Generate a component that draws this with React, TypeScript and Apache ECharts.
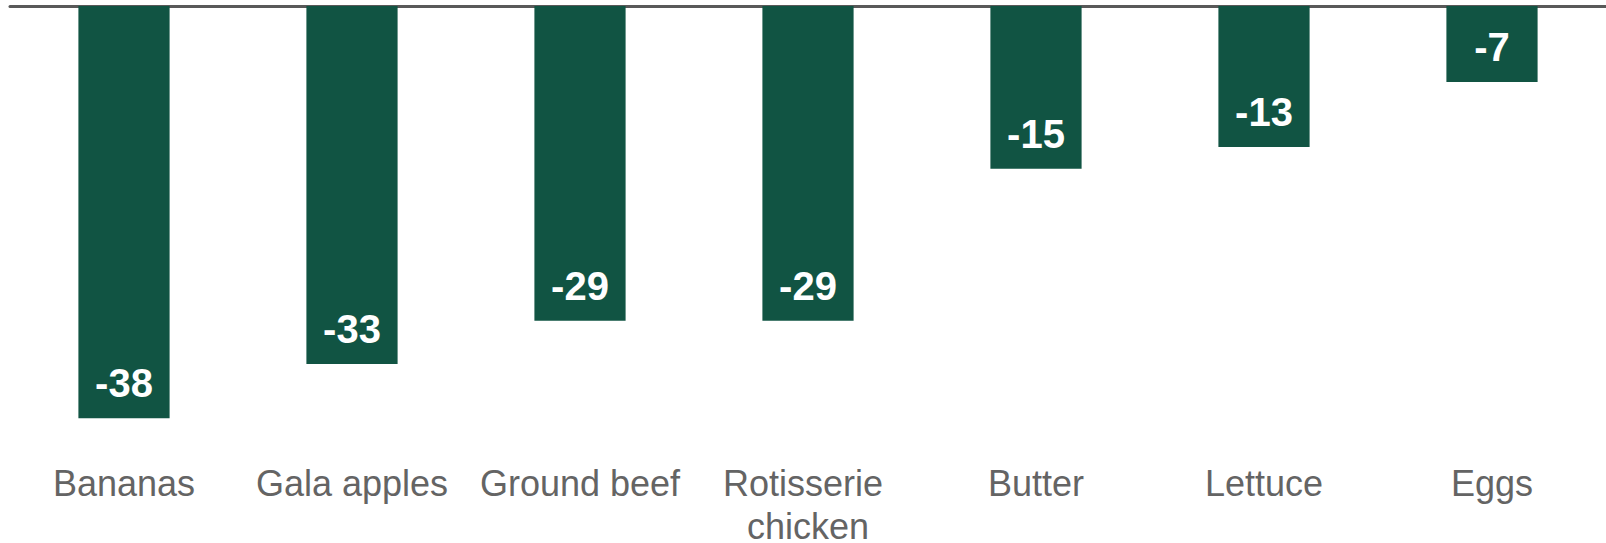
import React, { useEffect, useRef } from "react";
import * as echarts from "echarts";

const categories = ["Bananas", "Gala apples", "Ground beef", "Rotisserie chicken", "Butter", "Lettuce", "Eggs"];
const values = [-38, -33, -29, -29, -15, -13, -7];
const yMin = -40;
const yMax = 0;

export default function App() {
  const ref = useRef<HTMLDivElement>(null);
  useEffect(() => {
    if (!ref.current) return;
    const chart = echarts.init(ref.current, undefined, { renderer: "svg" });
    const font = "'Liberation Sans', Arial, sans-serif";
    chart.setOption({
      animation: false,
      grid: { left: 10, right: 0, top: 6, bottom: 103, containLabel: false, outerBoundsMode: "none" },
      xAxis: [
        {
          type: "category",
          data: categories,
          position: "top",
          axisLine: { show: true, onZero: false, lineStyle: { color: "#595959", width: 3 } },
          axisTick: { show: false },
          axisLabel: { show: false },
        },
        {
          type: "category",
          data: categories,
          position: "bottom",
          axisLine: { show: false, onZero: false },
          axisTick: { show: false },
          axisLabel: {
            show: true,
            interval: 0,
            margin: 22,
            color: "#646464",
            fontSize: 36,
            lineHeight: 43,
            fontFamily: font,
            width: 220,
            overflow: "break",
          },
        },
      ],
      yAxis: {
        type: "value",
        min: yMin,
        max: yMax,
        show: false,
        splitLine: { show: false },
      },
      series: [
        {
          type: "bar",
          xAxisIndex: 0,
          data: values,
          barWidth: "40%",
          itemStyle: { color: "#115443" },
          label: {
            show: true,
            position: "insideBottom",
            distance: 15,
            color: "#ffffff",
            fontSize: 40,
            fontWeight: "bold",
            fontFamily: font,
          },
        },
      ],
    });
    return () => chart.dispose();
  }, []);
  return (
    <div
      ref={ref}
      style={{ position: "fixed", left: 0, top: 0, width: 1606, height: 543, background: "#ffffff" }}
    />
  );
}
